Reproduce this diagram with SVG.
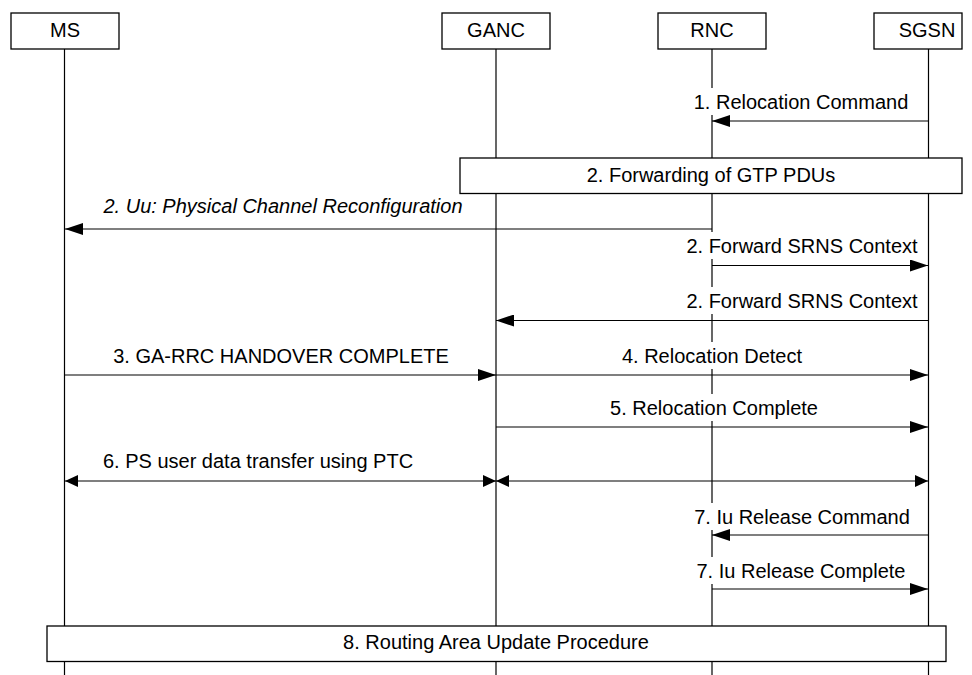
<svg xmlns="http://www.w3.org/2000/svg" width="972" height="675" viewBox="0 0 972 675">
<style>
text{font-family:"Liberation Sans",Arial,sans-serif;font-size:20px;fill:#000;text-anchor:middle}
.box{fill:#fff;stroke:#000;stroke-width:1.3}
.life{stroke:#000;stroke-width:1.2;fill:none}
.msg{stroke:#000;stroke-width:1.2;fill:none}
.bg{fill:#fff;stroke:none}
.it{font-style:italic}
</style>
<defs>
<marker id="ah" markerUnits="userSpaceOnUse" markerWidth="18" markerHeight="12" refX="18" refY="6" orient="auto"><path d="M0,0 L18,6 L0,12 z" fill="#000"/></marker>
<marker id="sh" markerUnits="userSpaceOnUse" markerWidth="13" markerHeight="12" refX="13" refY="6" orient="auto-start-reverse"><path d="M0,0 L13,6 L0,12 z" fill="#000"/></marker>
</defs>
<g id="MS"><line class="life" x1="64.5" y1="49" x2="64.5" y2="675"/><rect class="box" x="11" y="13" width="108" height="36"/><text x="65" y="37">MS</text></g>
<g id="GANC"><line class="life" x1="496" y1="49" x2="496" y2="675"/><rect class="box" x="442" y="13" width="108" height="36"/><text x="496" y="37">GANC</text></g>
<g id="RNC"><line class="life" x1="712" y1="49" x2="712" y2="675"/><rect class="box" x="658" y="13" width="108" height="36"/><text x="712" y="37">RNC</text></g>
<g id="SGSN"><line class="life" x1="928.5" y1="49" x2="928.5" y2="675"/><rect class="box" x="874" y="13" width="88" height="36"/><text x="927" y="37">SGSN</text></g>
<g id="connectors">
<rect class="bg" x="693" y="88" width="217" height="27"/>
<text x="801" y="109">1. Relocation Command</text>
<line class="msg" x1="928" y1="121" x2="712" y2="121" marker-end="url(#ah)"/>
<text class="it" x="283" y="213">2. Uu: Physical Channel Reconfiguration</text>
<line class="msg" x1="712" y1="229" x2="65" y2="229" marker-end="url(#ah)"/>
<rect class="bg" x="685" y="232" width="234" height="27"/>
<text x="802" y="253">2. Forward SRNS Context</text>
<line class="msg" x1="712" y1="265.5" x2="928" y2="265.5" marker-end="url(#ah)"/>
<rect class="bg" x="685" y="287" width="234" height="27"/>
<text x="802" y="308">2. Forward SRNS Context</text>
<line class="msg" x1="928" y1="320.5" x2="496" y2="320.5" marker-end="url(#ah)"/>
<text x="281" y="363">3. GA-RRC HANDOVER COMPLETE</text>
<line class="msg" x1="65" y1="375" x2="496" y2="375" marker-end="url(#ah)"/>
<rect class="bg" x="620" y="342" width="184" height="27"/>
<text x="712" y="363">4. Relocation Detect</text>
<line class="msg" x1="496" y1="375" x2="928" y2="375" marker-end="url(#ah)"/>
<rect class="bg" x="625" y="394" width="178" height="27"/>
<text x="714" y="415">5. Relocation Complete</text>
<line class="msg" x1="496" y1="427" x2="928" y2="427" marker-end="url(#ah)"/>
<text x="258" y="468">6. PS user data transfer using PTC</text>
<line class="msg" x1="65" y1="481" x2="496" y2="481" marker-start="url(#sh)" marker-end="url(#sh)"/>
<line class="msg" x1="496" y1="481" x2="928" y2="481" marker-start="url(#sh)" marker-end="url(#sh)"/>
<rect class="bg" x="693" y="503" width="218" height="27"/>
<text x="802" y="524">7. Iu Release Command</text>
<line class="msg" x1="928" y1="535" x2="712" y2="535" marker-end="url(#ah)"/>
<rect class="bg" x="695" y="557" width="212" height="27"/>
<text x="801" y="578">7. Iu Release Complete</text>
<line class="msg" x1="712" y1="589" x2="928" y2="589" marker-end="url(#ah)"/>
</g>
<g id="gtp"><rect class="box" x="460" y="158" width="502" height="35.5"/><text x="711" y="182">2. Forwarding of GTP PDUs</text></g>
<g id="rau"><rect class="box" x="47" y="626" width="899" height="35.5"/><text x="496" y="649">8. Routing Area Update Procedure</text></g>
</svg>
